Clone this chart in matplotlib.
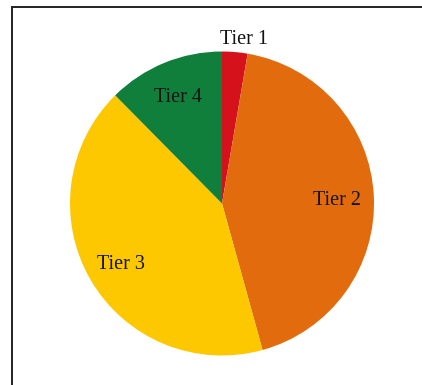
import numpy as np
import matplotlib.pyplot as plt
from matplotlib.patches import Rectangle

# share of each tier (clockwise from 12 o'clock)
tiers = ['Tier 1', 'Tier 2', 'Tier 3', 'Tier 4']
shares = [2.7, 43.0, 41.9, 12.4]
colors = ['#D5121B', '#E26C0D', '#FDC800', '#107F3B']

# how far out each label sits (fraction of radius)
label_dist = [1.1, 0.76, 0.77, 0.77]

fig = plt.figure(figsize=(4.22, 3.85), dpi=100)
fig.patch.set_facecolor('white')

# frame around the picture (right/bottom edges fall outside the image)
fig.patches.append(Rectangle((12/422, -0.05), 1.2, 1 - 7/385 + 0.05,
                             transform=fig.transFigure, fill=False,
                             edgecolor='#222222', linewidth=1.4))

ax = fig.add_axes([70/422, 29.5/385, 304/422, 304/385])
wedges, _ = ax.pie(shares, colors=colors, startangle=90, counterclock=False,
                   radius=1.0, wedgeprops=dict(linewidth=0))
ax.set_xlim(-1, 1)
ax.set_ylim(-1, 1)

for i, (w, name, d) in enumerate(zip(wedges, tiers, label_dist)):
    mid = np.deg2rad((w.theta1 + w.theta2) / 2)
    x, y = d*np.cos(mid), d*np.sin(mid)
    if i == 0:
        x += 0.05   # top label sits a bit right of its sliver
    ax.text(x, y, name, ha='center', va='center_baseline',
            fontsize=14.5, family='Liberation Serif', color='#141414',
            clip_on=False)

plt.savefig('out.png', dpi=100)
plt.close()
